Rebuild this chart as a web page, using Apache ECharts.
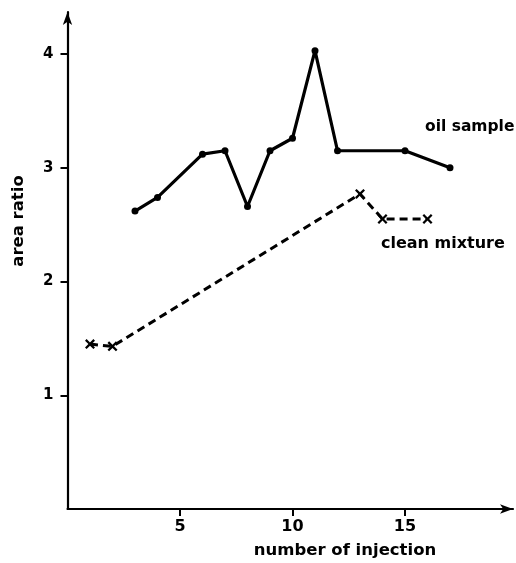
<!DOCTYPE html>
<html><head><meta charset="utf-8">
<script src="https://cdn.jsdelivr.net/npm/echarts@6/dist/echarts.min.js"></script>
<style>html,body{margin:0;padding:0;background:#fff}#c{width:516px;height:563px}</style>
</head><body><div id="c"></div>
<script>
var oilX = [3, 4, 6, 7, 8, 9, 10, 11, 12, 15, 17];
var oilY = [2.62, 2.74, 3.12, 3.15, 2.66, 3.15, 3.26, 4.03, 3.15, 3.15, 3.00];
var cleanX = [1, 2, 13, 14, 16];
var cleanY = [1.45, 1.43, 2.77, 2.55, 2.55];
var xTicks = [5, 10, 15];
var yTicks = [1, 2, 3, 4];
var seriesNames = ['oil sample', 'clean mixture'];
var xTitle = 'number of injection';
var yTitle = 'area ratio';

function pairs(xs, ys){ return xs.map(function(x,i){return [x, ys[i]];}); }
var FONT = 'DejaVu Sans';
var crossPath = 'path://M0,1.6L1.6,0L5,3.4L8.4,0L10,1.6L6.6,5L10,8.4L8.4,10L5,6.6L1.6,10L0,8.4L3.4,5Z';

var chart = echarts.init(document.getElementById('c'));
chart.setOption({
  animation: false,
  backgroundColor: '#fff',
  grid: {left: 67.5, right: 3, top: 12, bottom: 54},
  xAxis: {
    type: 'value', min: 0, max: 19.8, interval: 5,
    axisLine: {show: true, lineStyle: {color: '#000', width: 2.2}, symbol: ['none', 'arrow'], symbolSize: [7, 13]},
    axisTick: {show: true, length: 7, customValues: xTicks, lineStyle: {color: '#000', width: 2}},
    axisLabel: {color: '#000', fontFamily: FONT, fontWeight: 'bold', fontSize: 16, margin: 10, customValues: xTicks},
    splitLine: {show: false}
  },
  yAxis: {
    type: 'value', min: 0, max: 4.37, interval: 1,
    axisLine: {show: true, lineStyle: {color: '#000', width: 2.2}, symbol: ['none', 'arrow'], symbolSize: [7, 13]},
    axisTick: {show: true, length: 7, customValues: yTicks, lineStyle: {color: '#000', width: 2}},
    axisLabel: {color: '#000', fontFamily: FONT, fontWeight: 'bold', fontSize: 15, margin: 14, customValues: yTicks},
    splitLine: {show: false}
  },
  series: [
    {name: seriesNames[0], type: 'line', data: pairs(oilX, oilY),
     symbol: 'circle', symbolSize: 7, itemStyle: {color: '#000'},
     lineStyle: {color: '#000', width: 3.2}},
    {name: seriesNames[1], type: 'line', data: pairs(cleanX, cleanY),
     symbol: crossPath, symbolSize: 10, itemStyle: {color: '#000'},
     lineStyle: {color: '#000', width: 3, type: [8, 5]}}
  ],
  graphic: [
    {type: 'text', left: 425, top: 119, style: {text: seriesNames[0], fill: '#000', font: 'bold 15.5px "DejaVu Sans"'}},
    {type: 'text', left: 381, top: 236, style: {text: seriesNames[1], fill: '#000', font: 'bold 16px "DejaVu Sans"'}},
    {type: 'text', x: 345, y: 551, style: {text: xTitle, fill: '#000', font: 'bold 16.5px "DejaVu Sans"', align: 'center', verticalAlign: 'middle'}},
    {type: 'text', x: 19, y: 221, rotation: Math.PI / 2, style: {text: yTitle, fill: '#000', font: 'bold 16.5px "DejaVu Sans"', align: 'center', verticalAlign: 'middle'}}
  ]
});
</script></body></html>
